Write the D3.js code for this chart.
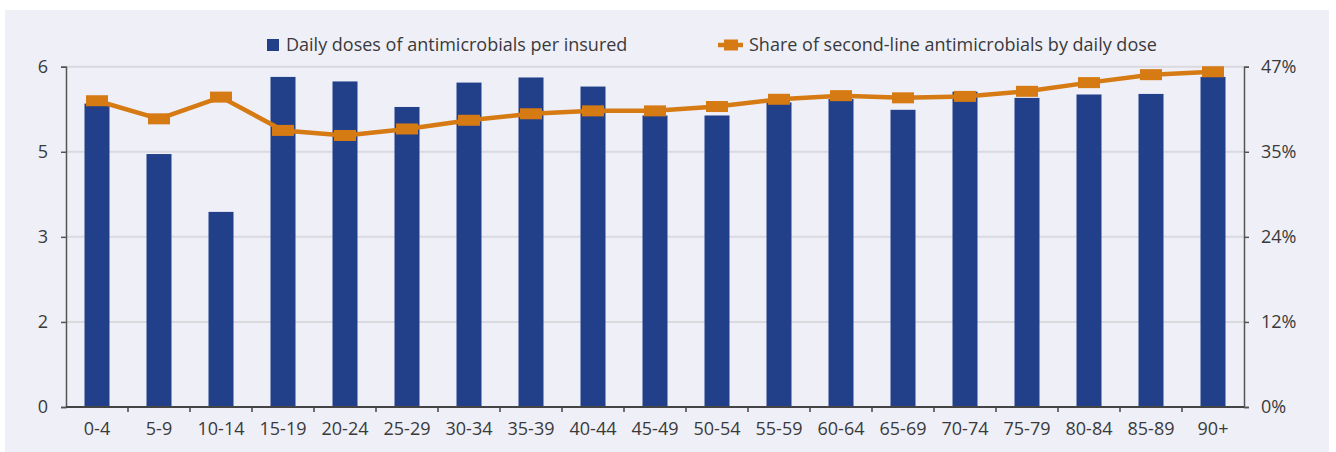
<!DOCTYPE html>
<html>
<head>
<meta charset="utf-8">
<script src="https://cdn.jsdelivr.net/npm/d3@7"></script>
<style>
  body { margin: 0; background: #fff; }
  svg { display: block; font-family: "Open Sans", "Noto Sans", sans-serif; }
</style>
</head>
<body>
<svg id="chart" width="1336" height="452"></svg>
<script>
var ageGroups = ["0-4", "5-9", "10-14", "15-19", "20-24", "25-29", "30-34", "35-39", "40-44", "45-49",
  "50-54", "55-59", "60-64", "65-69", "70-74", "75-79", "80-84", "85-89", "90+"]
// daily doses of antimicrobials per insured (left axis)
var dosesPerInsured = [5.35, 4.46, 3.44, 5.82, 5.74, 5.29, 5.72, 5.81, 5.65, 5.14,
  5.14, 5.37, 5.43, 5.24, 5.56, 5.45, 5.51, 5.52, 5.82]
// share of second-line antimicrobials, % (right axis)
var secondLineShare = [42.3, 39.8, 42.8, 38.2, 37.5, 38.4, 39.6, 40.5, 40.9, 40.9,
  41.5, 42.5, 43.0, 42.7, 42.9, 43.6, 44.8, 45.9, 46.3]
var leftTicks = [0, 1.5, 3, 4.5, 6]
var rightTicks = [0, 11.75, 23.5, 35.25, 47]
var legendLabels = ["Daily doses of antimicrobials per insured", "Share of second-line antimicrobials by daily dose"]

function draw(){
  var svg = d3.select('svg#chart')
  var blue = '#22408a', orange = '#d67a14', textCol = '#3a3a3a'
  var fs = '18px'

  svg.append('rect')
    .attr('x', 5).attr('y', 10)
    .attr('width', 1324).attr('height', 442)
    .style('fill', '#efeff8')

  var left = 66, right = 1244, top = 66.7, bottom = 407

  var xb = d3.scaleBand().domain(ageGroups).range([left, right])
  var yL = d3.scaleLinear().domain([0, 6]).range([bottom, top])
  var yR = d3.scaleLinear().domain([0, 47]).range([bottom, top])

  // gridlines
  svg.append('g').selectAll('line.grid')
    .data(leftTicks)
    .enter()
    .append('line')
    .attr('class', 'grid')
    .attr('x1', left).attr('x2', right)
    .attr('y1', function(d){return yL(d)}).attr('y2', function(d){return yL(d)})
    .style('stroke', '#d9d9de')
    .style('stroke-width', 2)

  // bars
  svg.append('g').selectAll('rect.bar')
    .data(dosesPerInsured)
    .enter()
    .append('rect')
    .attr('class', 'bar')
    .attr('x', function(d, i){return xb(ageGroups[i]) + xb.bandwidth() / 2 - 12.5})
    .attr('width', 25)
    .attr('y', function(d){return yL(d)})
    .attr('height', function(d){return bottom - yL(d)})
    .style('fill', blue)

  // axes
  var axL = d3.axisLeft(yL).tickValues(leftTicks).tickSize(5).tickPadding(13)
    .tickFormat(function(d){return Math.round(d)})
  var axR = d3.axisRight(yR).tickValues(rightTicks).tickSize(5).tickPadding(12)
    .tickFormat(function(d){return Math.round(d) + '%'})
  var gL = svg.append('g').attr('transform', 'translate(' + left + ',0)').call(axL)
  var gR = svg.append('g').attr('transform', 'translate(' + right + ',0)').call(axR)
  ;[gL, gR].forEach(function(g){
    g.select('.domain').style('stroke', '#555').style('stroke-width', 1.5)
    g.selectAll('.tick line').style('stroke', '#555').style('stroke-width', 1.5)
    g.selectAll('.tick text').style('font-size', fs).style('fill', textCol)
      .style('font-family', '"Open Sans", sans-serif')
  })

  // x axis with ticks on the band boundaries
  var gX = svg.append('g').attr('transform', 'translate(0,' + bottom + ')')
  gX.append('line').attr('x1', left).attr('x2', right)
    .style('stroke', '#444').style('stroke-width', 2)
  gX.selectAll('line.tick')
    .data(ageGroups.slice(1))
    .enter()
    .append('line')
    .attr('class', 'tick')
    .attr('x1', function(d){return xb(d)}).attr('x2', function(d){return xb(d)})
    .attr('y1', 0).attr('y2', 5)
    .style('stroke', '#444').style('stroke-width', 1.5)
  gX.selectAll('text')
    .data(ageGroups)
    .enter()
    .append('text')
    .attr('x', function(d){return xb(d) + xb.bandwidth() / 2})
    .attr('y', 28)
    .attr('text-anchor', 'middle')
    .style('font-size', fs)
    .style('fill', textCol)
    .text(function(d){return d})

  // line series
  var line = d3.line()
    .x(function(d, i){return xb(ageGroups[i]) + xb.bandwidth() / 2})
    .y(function(d){return yR(d)})
  svg.append('path')
    .datum(secondLineShare)
    .attr('d', line)
    .style('fill', 'none')
    .style('stroke', orange)
    .style('stroke-width', 4.5)
    .style('stroke-linejoin', 'round')
  svg.append('g').selectAll('rect.marker')
    .data(secondLineShare)
    .enter()
    .append('rect')
    .attr('class', 'marker')
    .attr('x', function(d, i){return xb(ageGroups[i]) + xb.bandwidth() / 2 - 11})
    .attr('y', function(d){return yR(d) - 5.5})
    .attr('width', 22).attr('height', 11)
    .style('fill', orange)

  // legend
  var lg = svg.append('g')
  lg.append('rect').attr('x', 267).attr('y', 39).attr('width', 12).attr('height', 12).style('fill', blue)
  lg.append('text').attr('x', 286).attr('y', 51).style('font-size', fs).style('fill', textCol).text(legendLabels[0])
  lg.append('line').attr('x1', 718).attr('x2', 743).attr('y1', 45).attr('y2', 45)
    .style('stroke', orange).style('stroke-width', 4.5)
  lg.append('rect').attr('x', 724).attr('y', 39.5).attr('width', 14).attr('height', 11).style('fill', orange)
  lg.append('text').attr('x', 749).attr('y', 51).style('font-size', fs).style('fill', textCol).text(legendLabels[1])
}
draw()
</script>
</body>
</html>
